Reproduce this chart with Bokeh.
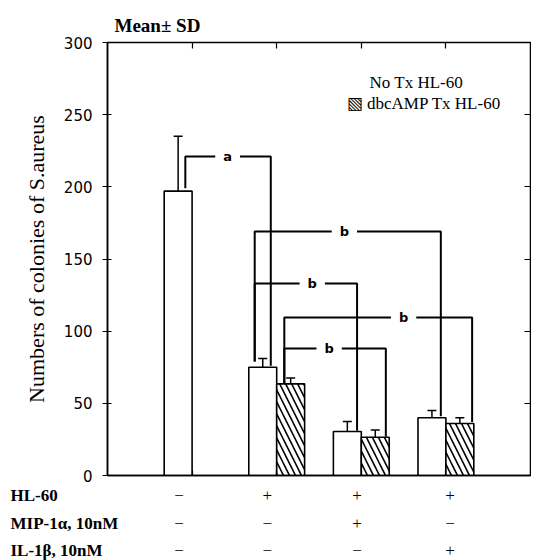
from bokeh.plotting import figure
from bokeh.models import (Range1d, FixedTicker, LinearAxis, Whisker, ColumnDataSource,
                          CustomJSTickFormatter)
from bokeh.layouts import column
from bokeh.embed import file_html
from bokeh.resources import INLINE
from bokeh.core.properties import value

# ---------------- data ----------------
group_pos = [1, 2, 3, 4]          # boundary between the pair of bars of each group
no_tx_mean = [197, 75, 30.5, 40]
no_tx_sd = [38, 6, 7, 5]
dbc_pos = [2, 3, 4]
dbc_mean = [63.5, 26.5, 36]
dbc_sd = [4, 5, 4]
bar_w = 0.33

y_ticks = [0, 50, 100, 150, 200, 250, 300]
x_ticks = [1, 2, 3, 4]

# significance brackets
br_label = ["a", "b", "b", "b", "b"]
br_x0 = [0.92, 1.74, 1.74, 2.09, 2.09]
br_x1 = [1.93, 3.94, 2.95, 4.31, 3.29]
br_top = [221, 169, 133, 109.5, 88]
br_y0 = [199, 79, 79, 64, 64]
br_y1 = [76, 41, 31, 37, 27]
br_text_x = [1.42, 2.80, 2.42, 3.50, 2.62]

# treatment table
rows = ["HL-60", "MIP-1α, 10nM", "IL-1β, 10nM"]
sign_x = [0.845, 1.89, 2.95, 4.05]
signs = [["−", "+", "+", "+"],
         ["−", "−", "+", "−"],
         ["−", "−", "−", "+"]]

legend_text = ["No Tx HL-60", "▧ dbcAMP Tx HL-60"]

# ---------------- layout constants ----------------
X0, X1 = 0, 5
FL, FW, FR = 107, 423, 1
FT, FH, FB = 42, 433, 10
SERIF = "Liberation Serif"
blank = CustomJSTickFormatter(code="return ''")

p = figure(x_range=Range1d(X0, X1), y_range=Range1d(0, 300),
           frame_width=FW, frame_height=FH,
           min_border_left=FL, min_border_right=FR, min_border_top=FT, min_border_bottom=FB,
           output_backend="svg", toolbar_location=None)
p.grid.visible = False
p.outline_line_color = "black"
p.outline_line_width = 1.5
p.background_fill_color = "white"

p.title.text = "Mean± SD"
p.title.text_font = SERIF
p.title.text_font_style = "bold"
p.title.text_font_size = "19px"
p.title.text_color = "black"
p.title.align = "left"
p.title.offset = 7
p.title.standoff = 14

xa = p.xaxis[0]
xa.ticker = FixedTicker(ticks=x_ticks)
xa.formatter = blank
xa.major_tick_in = 5
xa.major_tick_out = 0
xa.minor_tick_line_color = None
xa.major_label_standoff = 0
xa.axis_line_width = 1.5
xa.major_tick_line_width = 1.2

ya = p.yaxis[0]
ya.ticker = FixedTicker(ticks=y_ticks)
ya.major_tick_in = 4
ya.major_tick_out = 5
ya.minor_tick_line_color = None
ya.major_label_text_font = "DejaVu Sans"
ya.major_label_text_font_size = "15px"
ya.major_label_text_color = "black"
ya.major_label_standoff = 10
ya.axis_line_width = 1.5
ya.major_tick_line_width = 1.2
ya.axis_label = "Numbers of colonies of S.aureus"
ya.axis_label_text_font = SERIF
ya.axis_label_text_font_style = "normal"
ya.axis_label_text_font_size = "22px"
ya.axis_label_text_color = "black"
ya.axis_label_standoff = 12

top_axis = LinearAxis(ticker=FixedTicker(ticks=x_ticks), formatter=blank,
                      major_tick_in=6, major_tick_out=0, minor_tick_line_color=None,
                      major_label_standoff=0, major_label_text_font_size="1px",
                      axis_line_color=None, major_tick_line_width=1.2)
p.add_layout(top_axis, "above")
right_axis = LinearAxis(ticker=FixedTicker(ticks=y_ticks), formatter=blank,
                        major_tick_in=6, major_tick_out=0, minor_tick_line_color=None,
                        major_label_standoff=0, major_label_text_font_size="1px",
                        axis_line_color=None, major_tick_line_width=1.2)
p.add_layout(right_axis, "right")

# bars
no_x = [g - bar_w / 2 for g in group_pos]
dbc_x = [g + bar_w / 2 for g in dbc_pos]
p.vbar(x=no_x, top=no_tx_mean, bottom=0, width=bar_w, fill_color="white",
       line_color="black", line_width=1.6)
p.vbar(x=dbc_x, top=dbc_mean, bottom=0, width=bar_w, fill_color="white",
       hatch_pattern="\\", hatch_color="black", hatch_scale=12, hatch_weight=1.6,
       line_color="black", line_width=1.6)

# error bars
err_src = ColumnDataSource(dict(
    x=no_x + dbc_x,
    lower=[m - s for m, s in zip(no_tx_mean, no_tx_sd)] + [m - s for m, s in zip(dbc_mean, dbc_sd)],
    upper=[m + s for m, s in zip(no_tx_mean, no_tx_sd)] + [m + s for m, s in zip(dbc_mean, dbc_sd)],
))
w = Whisker(source=err_src, base="x", lower="lower", upper="upper", dimension="height",
            line_color="black", line_width=1.5)
w.upper_head.size = 9
w.lower_head.size = 9
w.upper_head.line_width = 1.5
w.lower_head.line_width = 1.5
p.add_layout(w)

# brackets
xs = [[a, a, b, b] for a, b in zip(br_x0, br_x1)]
ys = [[y0, t, t, y1] for y0, t, y1 in zip(br_y0, br_top, br_y1)]
p.multi_line(xs=xs, ys=ys, line_color="black", line_width=2)
p.text(x=br_text_x, y=br_top, text=br_label, text_align="center", text_baseline="middle",
       text_font=value("DejaVu Sans"), text_font_style="bold", text_font_size="13px",
       text_color="black", background_fill_color="white", padding=8)

# legend (text only, as in the original)
p.text(x=[3.65, 3.74], y=[272, 258], text=legend_text, text_align="center",
       text_baseline="middle", text_font=value(SERIF), text_font_size="17px",
       text_color="black")

# ---------------- treatment table ----------------
ppu = FW / (X1 - X0)
TOTAL_H = 560
A_H = FT + FH + FB
BH = TOTAL_H - A_H
row_gap = 27.5
first = 10
tb = figure(width=FL + FW + FR, height=BH,
            x_range=Range1d(X0 - FL / ppu, X1 + FR / ppu),
            y_range=Range1d((BH - first) / row_gap, -first / row_gap),
            min_border_left=0, min_border_right=0, min_border_top=0, min_border_bottom=0,
            x_axis_location=None, y_axis_location=None,
            outline_line_color=None, toolbar_location=None, output_backend="svg")
tb.grid.visible = False
for fig in (p, tb):
    try:
        fig.frame_align = False
    except Exception:
        pass

tb.text(x=[X0 - (FL - 10) / ppu] * len(rows), y=list(range(len(rows))), text=rows,
        text_align="left", text_baseline="middle",
        text_font=value(SERIF), text_font_style="bold", text_font_size="17px",
        text_color="black")
sx, sy, st = [], [], []
for i, r in enumerate(signs):
    for xv, s in zip(sign_x, r):
        sx.append(xv); sy.append(i); st.append(s)
tb.text(x=sx, y=sy, text=st, text_align="center", text_baseline="middle",
        text_font=value(SERIF), text_font_size="17px", text_color="black")

layout = column(p, tb, spacing=0)
open("out.html", "w").write(file_html(layout, INLINE))
